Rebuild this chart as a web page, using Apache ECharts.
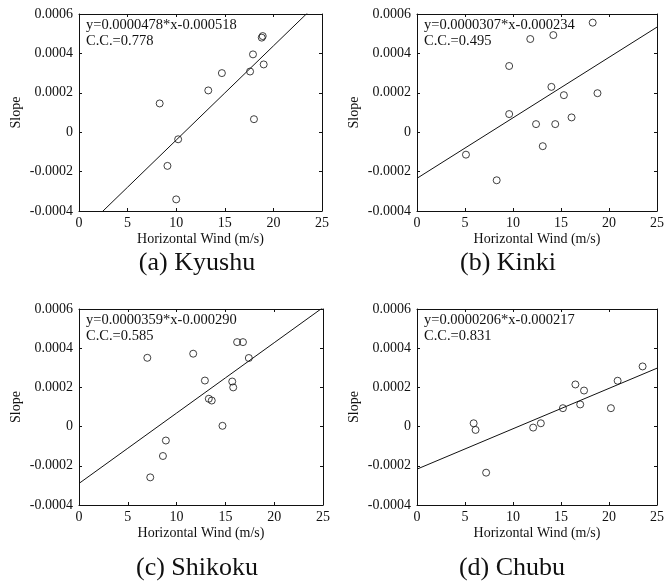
<!DOCTYPE html>
<html>
<head>
<meta charset="utf-8">
<script src="https://cdn.jsdelivr.net/npm/echarts@6/dist/echarts.min.js"></script>
<style>
  html, body { margin: 0; padding: 0; background: #fff; }
  #chart { width: 667px; height: 582px; }
</style>
</head>
<body>
<div id="chart"></div>
<script>
// Panel captions
const regionNames = ['(a) Kyushu', '(b) Kinki', '(c) Shikoku', '(d) Chubu'];

// Axis ticks
const windTicks = [0, 5, 10, 15, 20, 25];
const slopeTicks = [-0.0004, -0.0002, 0, 0.0002, 0.0004, 0.0006];

// Horizontal wind (m/s) and slope per observation, one pair of arrays per region
const kyushuWind  = [8.3, 9.1, 10.0, 10.2, 13.3, 14.7, 17.6, 17.9, 18.0, 18.8, 18.9, 19.0];
const kyushuSlope = [0.000146, -0.000171, -0.000341, -0.000036, 0.000212, 0.000300, 0.000308, 0.000395, 0.000066, 0.000480, 0.000488, 0.000344];

const kinkiWind  = [5.1, 8.3, 9.6, 9.6, 11.8, 12.4, 13.1, 14.0, 14.2, 14.4, 15.3, 16.1, 18.3, 18.8];
const kinkiSlope = [-0.000114, -0.000244, 0.000336, 0.000092, 0.000473, 0.000041, -0.000071, 0.000230, 0.000493, 0.000041, 0.000188, 0.000075, 0.000556, 0.000198];

const shikokuWind  = [7.0, 7.3, 8.6, 8.9, 11.7, 12.9, 13.3, 13.6, 14.7, 15.7, 15.8, 16.2, 16.8, 17.4];
const shikokuSlope = [0.000351, -0.000259, -0.000150, -0.000071, 0.000372, 0.000235, 0.000142, 0.000133, 0.000004, 0.000230, 0.000200, 0.000431, 0.000431, 0.000350];

const chubuWind  = [5.9, 6.1, 7.2, 12.1, 12.9, 15.2, 16.5, 17.0, 17.4, 20.2, 20.9, 23.5];
const chubuSlope = [0.000017, -0.000017, -0.000235, -0.000005, 0.000017, 0.000094, 0.000215, 0.000113, 0.000184, 0.000094, 0.000234, 0.000307];

// Regression results per region
const fitSlope     = [0.0000478, 0.0000307, 0.0000359, 0.0000206];
const fitIntercept = [-0.000518, -0.000234, -0.000290, -0.000217];
const fitCC        = ['0.778', '0.495', '0.585', '0.831'];

const windSets  = [kyushuWind, kinkiWind, shikokuWind, chubuWind];
const slopeSets = [kyushuSlope, kinkiSlope, shikokuSlope, chubuSlope];

const SERIF = '"Liberation Serif", "Times New Roman", serif';
const INK = '#111';

const grids = [
  { left: 79,  top: 14,  width: 243, height: 197 },
  { left: 417, top: 14,  width: 244, height: 197 },
  { left: 79,  top: 309, width: 244, height: 196 },
  { left: 417, top: 309, width: 244, height: 196 }
];
// caption anchor (centre) for each panel
const captionPos = [[197, 263], [508, 263], [197, 568], [512, 568]];

const xMin = windTicks[0], xMax = windTicks[windTicks.length - 1];
const yMin = slopeTicks[0], yMax = slopeTicks[slopeTicks.length - 1];

function slopeLabel(v) {
  if (Math.abs(v) < 1e-12) return '0';
  return v.toFixed(4);
}

const xAxes = [], yAxes = [], series = [], graphics = [];

grids.forEach(function (g, i) {
  const lineStyle = { color: INK, width: 1 };
  // bottom axis with labels
  xAxes.push({
    gridIndex: i, type: 'value', min: xMin, max: xMax, interval: 5,
    name: 'Horizontal Wind (m/s)', nameLocation: 'middle', nameGap: 21,
    nameTextStyle: { fontFamily: SERIF, fontSize: 14, color: INK },
    axisLine: { show: true, onZero: false, lineStyle: lineStyle },
    axisTick: { show: true, inside: true, length: 3, lineStyle: lineStyle },
    axisLabel: { fontFamily: SERIF, fontSize: 14, color: INK, margin: 5 },
    splitLine: { show: false }
  });
  // top frame
  xAxes.push({
    gridIndex: i, type: 'value', position: 'top', min: xMin, max: xMax, interval: 5,
    axisLine: { show: true, onZero: false, lineStyle: lineStyle },
    axisTick: { show: true, inside: true, length: 3, lineStyle: lineStyle },
    axisLabel: { show: false }, splitLine: { show: false }
  });
  // left axis with labels
  yAxes.push({
    gridIndex: i, type: 'value', min: yMin, max: yMax, interval: 0.0002,
    name: 'Slope', nameLocation: 'middle', nameGap: 56, nameRotate: 90,
    nameTextStyle: { fontFamily: SERIF, fontSize: 14, color: INK },
    axisLine: { show: true, onZero: false, lineStyle: lineStyle },
    axisTick: { show: true, inside: true, length: 3, lineStyle: lineStyle },
    axisLabel: { fontFamily: SERIF, fontSize: 14, color: INK, margin: 6, formatter: slopeLabel },
    splitLine: { show: false }
  });
  // right frame
  yAxes.push({
    gridIndex: i, type: 'value', position: 'right', min: yMin, max: yMax, interval: 0.0002,
    axisLine: { show: true, onZero: false, lineStyle: lineStyle },
    axisTick: { show: true, inside: true, length: 3, lineStyle: lineStyle },
    axisLabel: { show: false }, splitLine: { show: false }
  });

  const xs = windSets[i], ys = slopeSets[i];
  series.push({
    type: 'scatter', xAxisIndex: 2 * i, yAxisIndex: 2 * i,
    symbol: 'circle', symbolSize: 7,
    itemStyle: { color: 'rgba(255,255,255,0)', borderColor: INK, borderWidth: 1 },
    data: xs.map(function (x, k) { return [x, ys[k]]; }),
    z: 3
  });

  // regression line evaluated from the fitted coefficients
  const a = fitSlope[i], b = fitIntercept[i];
  const lineData = windTicks.map(function (x) { return [x, a * x + b]; });
  series.push({
    type: 'line', xAxisIndex: 2 * i, yAxisIndex: 2 * i,
    data: lineData, showSymbol: false, symbol: 'none', clip: true,
    lineStyle: { color: INK, width: 1 }, silent: true, z: 2
  });

  // equation and correlation coefficient
  graphics.push({
    type: 'text', left: g.left + 7, top: g.top + 3,
    style: {
      text: 'y=' + a.toFixed(7) + '*x' + (b < 0 ? '-' : '+') + Math.abs(b).toFixed(6) + '\nC.C.=' + fitCC[i],
      font: '14.5px ' + SERIF, fill: INK, lineHeight: 16
    }
  });
  // caption under each panel
  graphics.push({
    type: 'text', x: captionPos[i][0], y: captionPos[i][1],
    style: {
      text: regionNames[i], font: '26px ' + SERIF, fill: INK,
      textAlign: 'center', textVerticalAlign: 'middle'
    }
  });
});

const chart = echarts.init(document.getElementById('chart'), null, { renderer: 'canvas' });
chart.setOption({
  backgroundColor: '#fff',
  animation: false,
  grid: grids.map(function (g) { return Object.assign({ containLabel: false }, g); }),
  xAxis: xAxes,
  yAxis: yAxes,
  series: series,
  graphic: graphics
});
</script>
</body>
</html>
